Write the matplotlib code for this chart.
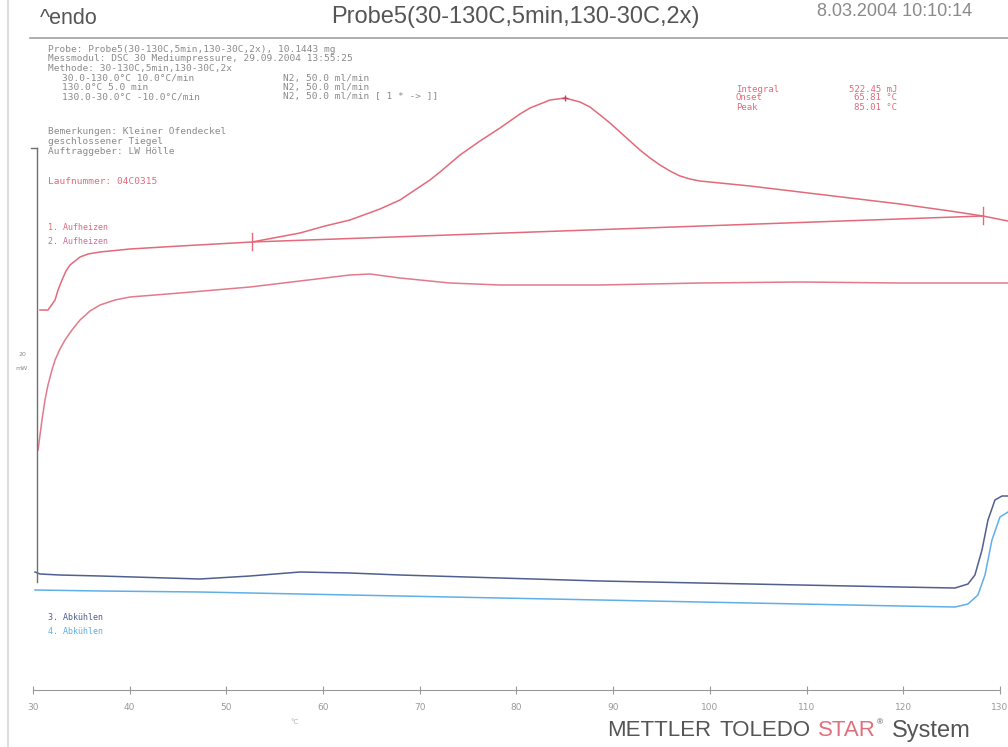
import matplotlib
matplotlib.use("Agg")
import matplotlib.pyplot as plt

# ---------------- data (temperature in °C, heat flow in mW, endo up) ----------------
ticks_T = [30, 40, 50, 60, 70, 80, 90, 100, 110, 120, 130]

heat1_T = [30.72, 31.55, 32.28, 32.59, 33.00, 33.41, 33.83, 34.86, 35.69, 36.93, 40.03, 45.20,
           52.65, 57.61, 60.20, 62.78, 65.88, 67.95, 71.05, 72.09, 74.16, 76.23, 78.29, 80.36,
           81.40, 83.47, 85.02, 86.57, 87.60, 88.64, 89.67, 90.70, 92.77, 93.81, 94.84, 95.87,
           96.91, 97.94, 98.97, 104.15, 109.32, 114.49, 119.66, 124.83, 128.24, 130.83]
heat1_mW = [19.00, 19.00, 19.50, 20.00, 20.50, 20.95, 21.25, 21.65, 21.80, 21.90, 22.05, 22.20,
            22.40, 22.85, 23.20, 23.50, 24.05, 24.50, 25.50, 25.90, 26.75, 27.45, 28.10, 28.80,
            29.10, 29.50, 29.60, 29.40, 29.15, 28.75, 28.35, 27.90, 27.00, 26.60, 26.25, 25.95,
            25.70, 25.55, 25.45, 25.20, 24.90, 24.60, 24.30, 23.95, 23.70, 23.45]

heat2_T = [30.52, 30.93, 31.24, 31.55, 31.96, 32.28, 32.79, 33.31, 34.03, 34.86, 35.89, 36.93,
           38.48, 40.03, 45.20, 52.44, 57.61, 62.78, 64.85, 67.95, 73.12, 78.29, 88.64, 98.97,
           109.32, 119.66, 130.83]
heat2_mW = [12.00, 13.50, 14.50, 15.25, 16.00, 16.50, 17.05, 17.50, 18.00, 18.50, 18.95, 19.25,
            19.50, 19.65, 19.85, 20.15, 20.45, 20.75, 20.80, 20.60, 20.35, 20.25, 20.25, 20.35,
            20.40, 20.35, 20.35]

cool3_T = [30.21, 30.72, 32.79, 36.93, 47.27, 52.44, 57.61, 62.78, 67.95, 78.29, 88.64, 98.97,
           109.32, 119.66, 125.35, 126.69, 127.41, 128.14, 128.76, 129.48, 130.21, 130.83]
cool3_mW = [5.90, 5.80, 5.75, 5.70, 5.55, 5.70, 5.90, 5.85, 5.75, 5.60, 5.45, 5.35,
            5.25, 5.15, 5.10, 5.30, 5.75, 7.00, 8.50, 9.50, 9.70, 9.70]

cool4_T = [30.21, 36.93, 47.27, 57.61, 67.95, 78.29, 88.64, 98.97, 109.32, 119.66, 125.35,
           126.69, 127.72, 128.45, 129.17, 130.00, 130.83]
cool4_mW = [5.00, 4.95, 4.90, 4.80, 4.70, 4.60, 4.50, 4.40, 4.30, 4.20, 4.15,
            4.30, 4.75, 5.75, 7.50, 8.65, 8.90]

# integration limits / baseline and peak of curve 1
base_T = [52.65, 128.24]
base_mW = [22.40, 23.70]
peak_T, peak_mW = 85.02, 29.60

legend_labels = ["1. Aufheizen", "2. Aufheizen", "3. Abkühlen", "4. Abkühlen"]
result_labels = ["Integral", "Onset", "Peak"]
result_values = ["522.45 mJ", "65.81 °C", "85.01 °C"]

info_lines = ["Probe: Probe5(30-130C,5min,130-30C,2x), 10.1443 mg",
              "Messmodul: DSC 30 Mediumpressure, 29.09.2004 13:55:25",
              "Methode: 30-130C,5min,130-30C,2x"]
seg_lines = ["30.0-130.0°C 10.0°C/min", "130.0°C 5.0 min", "130.0-30.0°C -10.0°C/min"]
gas_lines = ["N2, 50.0 ml/min", "N2, 50.0 ml/min", "N2, 50.0 ml/min [ 1 * -> ]]"]
remark_lines = ["Bemerkungen: Kleiner Ofendeckel", "geschlossener Tiegel", "Auftraggeber: LW Hölle"]
run_line = "Laufnummer: 04C0315"

# ---------------- styling ----------------
W, H = 1008, 747
c1 = "#e26a7a"
c2 = "#e27a8c"
c3 = "#4f5f8f"
c4 = "#5fb0e6"
grey = "#8a8a8a"

fig = plt.figure(figsize=(W / 100, H / 100), dpi=100)
ax = fig.add_axes([0, 0, 1, 1])
ax.set_xlim(26.587, 130.83)
ax.set_ylim(-2.85, 34.5)
for s in ["top", "left", "right"]:
    ax.spines[s].set_visible(False)
ax.spines["bottom"].set_position(("data", 0))
ax.spines["bottom"].set_bounds(30, 130)
ax.spines["bottom"].set_color("#9a9a9a")
ax.set_yticks([])
ax.set_xticks(ticks_T)
ax.set_xticklabels([str(t) for t in ticks_T])
ax.tick_params(axis="x", direction="inout", length=6, width=0.8, color="#9a9a9a",
               labelsize=6.5, labelcolor="#9a9a9a", pad=6)


def P(x, y):
    return x / W, 1 - y / H


T = ax.transAxes
mono = "DejaVu Sans Mono"
fs_info = 6.8

# curves
ax.plot(heat1_T, heat1_mW, color=c1, lw=1.1)
ax.plot(base_T, base_mW, color=c1, lw=1.1)
ax.plot(heat2_T, heat2_mW, color=c2, lw=1.1)
ax.plot(cool3_T, cool3_mW, color=c3, lw=1.1)
ax.plot(cool4_T, cool4_mW, color=c4, lw=1.1)
for bt, bm in zip(base_T, base_mW):
    ax.plot([bt, bt], [bm - 0.4, bm + 0.45], color=c1, lw=1.0)
ax.plot([peak_T], [peak_mW], marker="+", color="#c04060", ms=5, mew=1.0)

# frame elements
ax.plot([30 / W, 1.0], [1 - 38 / H] * 2, transform=T, color="#a0a0a0", lw=1.2)
ax.plot([37 / W, 37 / W], [1 - 148 / H, 1 - 582 / H], transform=T, color="#707070", lw=1.0)
ax.plot([31 / W, 37 / W], [1 - 148 / H] * 2, transform=T, color="#707070", lw=1.0)
ax.plot([8 / W, 8 / W], [0, 1], transform=T, color="#d6d6d6", lw=1.2)
ax.text(*P(22, 355), "20", transform=T, fontsize=4.5, color=grey, ha="center", va="center")
ax.text(*P(22, 368), "mW", transform=T, fontsize=4.5, color=grey, ha="center", va="center")

# header
ax.text(*P(40, 19), "^endo", transform=T, fontsize=15.5, color="#555555",
        family="Liberation Sans", va="center")
ax.text(*P(515, 17), "Probe5(30-130C,5min,130-30C,2x)", transform=T, fontsize=17,
        color="#555555", family="Liberation Sans", ha="center", va="center")
ax.text(*P(817, 11), "8.03.2004 10:10:14", transform=T, fontsize=13,
        color="#8a8a8a", family="Liberation Sans", va="center")

# info block
for i, s in enumerate(info_lines):
    ax.text(*P(48, 49 + 9.5 * i), s, transform=T, fontsize=fs_info, color=grey, family=mono, va="center")
for i, (s, g) in enumerate(zip(seg_lines, gas_lines)):
    ax.text(*P(62, 78 + 9.5 * i), s, transform=T, fontsize=fs_info, color=grey, family=mono, va="center")
    ax.text(*P(283, 78 + 9.5 * i), g, transform=T, fontsize=fs_info, color=grey, family=mono, va="center")
for i, s in enumerate(remark_lines):
    ax.text(*P(48, 131 + 10 * i), s, transform=T, fontsize=fs_info, color=grey, family=mono, va="center")
ax.text(*P(48, 181), run_line, transform=T, fontsize=fs_info, color=c1, family=mono, va="center")

# results
for i, (l, v) in enumerate(zip(result_labels, result_values)):
    ax.text(*P(736, 89 + 9 * i), l, transform=T, fontsize=6.5, color=c1, family=mono, va="center")
    ax.text(*P(897, 89 + 9 * i), v, transform=T, fontsize=6.5, color=c1, family=mono,
            va="center", ha="right")

# legend labels
leg_pos = [227, 241, 617, 631]
leg_col = [c1, "#c8709a", c3, c4]
for lab, yy, cc in zip(legend_labels, leg_pos, leg_col):
    ax.text(*P(48, yy), lab, transform=T, fontsize=6, color=cc, family=mono, va="center")

# footer
foot = dict(transform=T, fontsize=16, color="#555555", family="Liberation Sans", va="center")
ax.text(*P(607, 731), "METTLER", **foot)
ax.text(*P(719, 731), "TOLEDO", **foot)
ax.text(*P(818, 731), "STAR", **{**foot, "color": "#e0707c"})
ax.text(*P(877, 723), "®", **{**foot, "fontsize": 6})
ax.text(*P(892, 731), "System", **{**foot, "fontsize": 17})
ax.text(*P(290, 722), "°C", transform=T, fontsize=5, color="#b0b0b0", va="center")

fig.savefig("out.png", dpi=100, facecolor="white")
